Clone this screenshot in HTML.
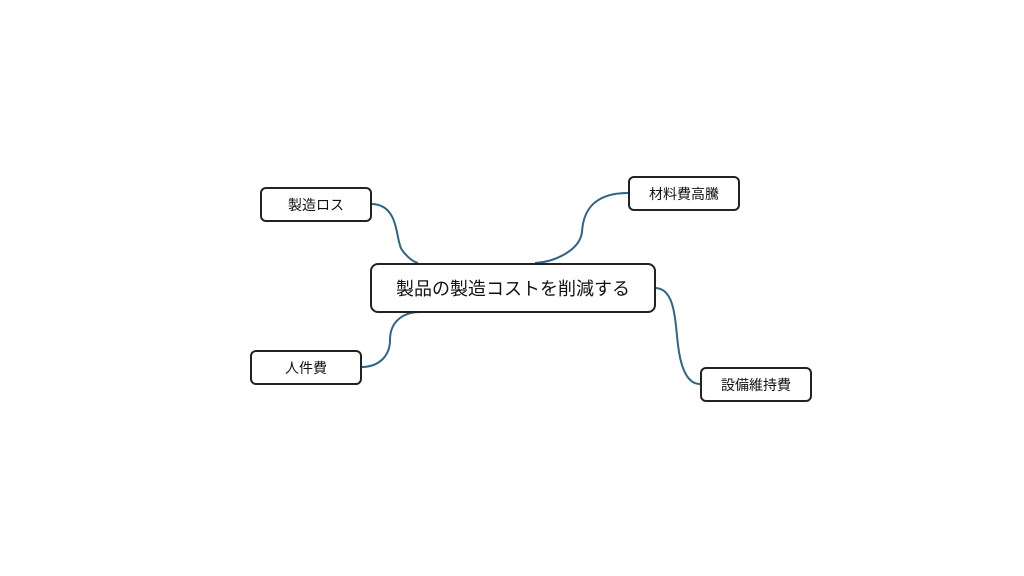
<!DOCTYPE html>
<html><head><meta charset="utf-8"><style>
body{margin:0;width:1024px;height:576px;background:#fff;position:relative;overflow:hidden;font-family:"Liberation Sans","Noto Sans CJK JP",sans-serif;}
.n{position:absolute;box-sizing:border-box;border:2px solid #222;border-radius:6px;background:#fff;display:flex;align-items:center;justify-content:center;font-size:14px;color:#111;}
.c{font-size:18px;border-radius:8px;}
svg{position:absolute;left:0;top:0}
</style></head><body>
<svg width="1024" height="576"><g fill="none" stroke="#2f6585" stroke-width="2">
<path d="M371,204 C400,204 395,240 402,250 C408,258 414,262 418,263"/>
<path d="M628,193 C590,193 583,215 582,232 C580,250 555,262 535,263"/>
<path d="M361,367 C380,367 390,355 390,340 C390,320 405,312 420,312"/>
<path d="M655,288 C675,288 675,320 678,345 C681,370 688,384 700,384"/>
</g></svg>
<div class="n" style="left:260px;top:187px;width:112px;height:35px">製造ロス</div>
<div class="n" style="left:628px;top:176px;width:112px;height:35px">材料費高騰</div>
<div class="n" style="left:250px;top:350px;width:112px;height:35px">人件費</div>
<div class="n" style="left:700px;top:367px;width:112px;height:35px">設備維持費</div>
<div class="n c" style="left:370px;top:263px;width:286px;height:50px">製品の製造コストを削減する</div>
</body></html>
